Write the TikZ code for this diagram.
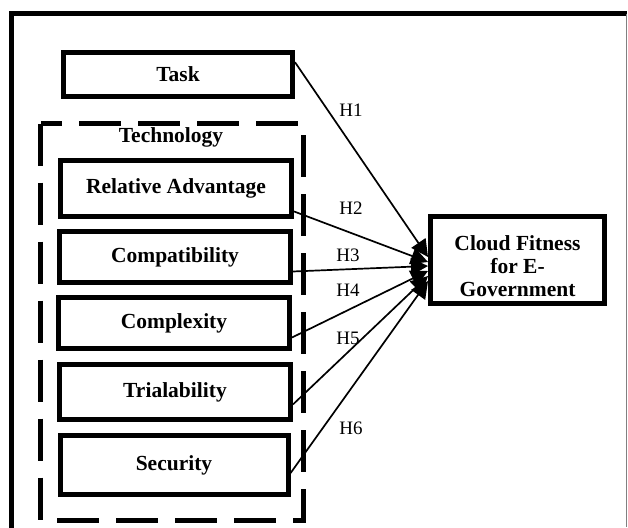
\documentclass[tikz,border=0pt]{standalone}
\usepackage{fontspec}
\setmainfont{Liberation Serif}
\usetikzlibrary{arrows.meta}
\begin{document}
\begin{tikzpicture}[x=1pt,y=-1pt,
    box/.style={draw, line width=5pt, minimum width=231pt, minimum height=52pt,
      inner sep=0pt, align=center, font=\fontsize{21.5}{23}\selectfont\bfseries},
    link/.style={line width=1.7pt, -{Triangle[length=17pt,width=17pt]}},
    hyp/.style={font=\fontsize{19}{20}\selectfont}]
  \useasboundingbox (0,0) rectangle (628,527);
  % frame
  \draw [line width=5pt] (11.5,540) -- (11.5,14) -- (627,14);
  \draw [gray, line width=0.8pt] (626.5,14) -- (626.5,527);
  % technology group
  \draw [line width=5pt, dash pattern=on 42pt off 17pt] (40.5,123.5) rectangle (303.5,520);
  \node [font=\fontsize{21.5}{23}\selectfont\bfseries] (tech) at (171,137) {Technology};
  \node [box, minimum width=229pt, minimum height=44pt] (task) at (178,74.5) {Task};
  \node [box, minimum height=56pt] (rel) at (176,188.5) {Relative Advantage};
  \node [box, minimum height=51pt] (comp) at (175,257) {Compatibility};
  \node [box, minimum height=51pt] (cplx) at (174,323) {Complexity};
  \node [box, minimum height=55pt] (trial) at (175,392) {Trialability};
  \node [box, minimum width=228pt, minimum height=59pt] (sec) at (174,465) {Security};
  \node [box, minimum width=174pt, minimum height=87pt] (cloud) at (517.5,260) {};
  \node [align=center, font=\fontsize{21.5}{23}\selectfont\bfseries] (cloudtxt) at (517.5,266)
    {Cloud Fitness\\for E-\\Government};
  % hypotheses
  \draw [link] (task.6) -- ([yshift=3pt]cloud.west);
  \draw [link] (rel.-11) -- ([yshift=-2pt]cloud.west);
  \draw [link] (comp.-7) -- ([yshift=-6pt]cloud.west);
  \draw [link] (cplx.-7) -- ([yshift=-11pt]cloud.west);
  \draw [link] (trial.-6) -- ([yshift=-16pt]cloud.west);
  \draw [link] (sec.-4) -- ([yshift=-21pt]cloud.west);
  \node [hyp] (h1) at (351,110) {H1};
  \node [hyp] (h2) at (351,208) {H2};
  \node [hyp] (h3) at (348,255) {H3};
  \node [hyp] (h4) at (348,290) {H4};
  \node [hyp] (h5) at (348,338) {H5};
  \node [hyp] (h6) at (351,428) {H6};
\end{tikzpicture}
\end{document}
